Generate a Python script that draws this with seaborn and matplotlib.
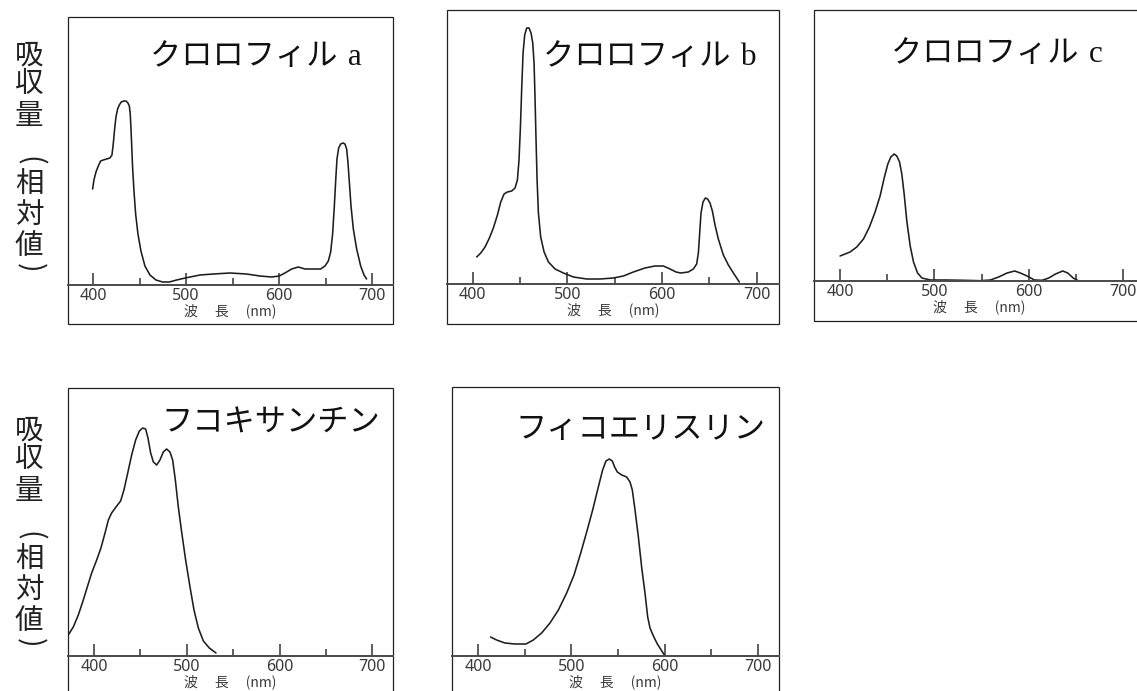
import matplotlib
matplotlib.use("Agg")
import matplotlib.pyplot as plt
import seaborn as sns
from matplotlib.patches import Rectangle

# ---------------- data (wavelength nm, relative absorbance) ----------------
wl_chl_a = [399.3, 400.7, 402.9, 405.4, 407.9, 410.8, 414.4, 417.9, 420.1, 421.5, 423, 424.4,
            426.2, 428, 430.1, 432.7, 435.2, 437.3, 438.8, 439.8, 440.5, 441.3, 442.3, 443.8,
            445.6, 448.1, 451.3, 455.6, 461, 467.5, 474.6, 481.8, 489.7, 499, 514.8, 529.2,
            547.1, 565, 579.4, 592, 600.2, 606.3, 613.5, 620.7, 627.8, 636.8, 644.7, 649.4,
            653, 655.5, 657.6, 659.4, 660.9, 662.3, 664.1, 666.3, 668.8, 670.9, 672.7, 674.1,
            675.6, 677.4, 679.9, 683.5, 687.8, 691.4, 694.2]
ab_chl_a = [96, 105, 113, 119, 124, 125, 126, 127, 130, 141, 156, 168,
            176, 180, 183, 184, 184, 182, 179, 171, 158, 141, 118, 94,
            71, 51, 34, 19, 10, 5, 3, 3, 5, 7, 10, 11,
            12, 11, 9, 8, 9, 12, 16, 18, 16, 16, 16, 19,
            24, 33, 51, 78, 104, 126, 137, 141, 142, 141, 136, 123,
            103, 79, 56, 36, 19, 10, 6]

wl_chl_b = [404.2, 408.5, 413, 417.6, 421.8, 426.1, 429.6, 433.1, 436.6, 441.2, 444.7, 447.2,
            448.9, 450.4, 451.8, 453.2, 454.9, 457, 459.5, 461.6, 463.4, 464.8, 465.8, 466.9,
            468, 469.4, 471.8, 475.4, 480, 487, 495.8, 506.3, 520.4, 534.5, 548.6, 559.2,
            569.7, 582, 592.6, 601.4, 608.5, 614.8, 619.7, 627.8, 633.1, 636.6, 638.4, 639.8,
            641.2, 643.3, 645.8, 648.2, 650.7, 653.2, 656, 659.5, 664.8, 670.1, 675.4, 681.7]
ab_chl_b = [27, 31, 37, 46, 56, 69, 82, 90, 92, 93, 96, 104,
            124, 157, 197, 231, 249, 256, 256, 251, 241, 221, 187, 144,
            104, 71, 47, 32, 22, 15, 11, 7, 5, 5, 6, 8,
            12, 16, 18, 18, 15, 12, 11, 12, 15, 20, 31, 51,
            71, 82, 86, 85, 81, 73, 59, 45, 29, 19, 11, 2]

wl_chl_c = [400, 405.3, 410.6, 417.7, 424.8, 431.1, 437.1, 442.4, 447, 450.6, 453.8, 457.3,
            460.1, 463, 465.4, 467.9, 470.7, 474.3, 477.8, 482.1, 486.7, 495.5, 513.2, 530.9,
            548.6, 559.2, 568, 576.9, 585, 591, 598.1, 605.9, 614, 621.1, 628.2, 635.9,
            641.2, 646.9, 652.9]
ab_chl_c = [25, 27, 29, 34, 42, 54, 69, 85, 104, 117, 124, 127,
            125, 119, 107, 87, 60, 35, 19, 8, 3, 1, 1, 0.7,
            0.3, 1, 4, 8, 10, 8, 5, 1, 0.7, 3, 7, 10,
            8, 3, 0]

wl_fuco = [372.3, 377.7, 383.1, 388.5, 392.8, 397.5, 402.9, 407.5, 411.9, 415.5, 419, 423.7,
           428.7, 432.3, 435.9, 440.6, 444.9, 448.9, 452.5, 455.7, 458.2, 461.1, 464, 467.6,
           471.1, 474.7, 478.3, 481.9, 484.8, 487.7, 490.9, 494.5, 498.8, 503.5, 507.8, 512.5,
           517.9, 524.3, 531.5]
ab_fuco = [21, 29, 41, 56, 69, 83, 96, 108, 123, 136, 143, 149,
           155, 166, 181, 201, 216, 225, 228, 227, 218, 203, 194, 191,
           196, 204, 207, 204, 196, 176, 149, 124, 96, 69, 46, 28,
           15, 8, 3]

wl_phyco = [413.2, 419.7, 428.6, 439.4, 451.2, 459.1, 468, 477, 486, 494.9, 502.8, 510,
            516.4, 522.8, 528.9, 533.5, 537.1, 540.7, 543.9, 546.4, 549.3, 554, 559.3, 562.9,
            565.4, 568.3, 571.9, 575.4, 579, 581.9, 584.4, 588, 592.3, 600.5]
ab_phyco = [19, 16, 13, 12, 12, 16, 23, 33, 46, 63, 81, 103,
            124, 146, 169, 186, 195, 197, 195, 189, 184, 181, 179, 174,
            166, 146, 119, 89, 63, 39, 28, 20, 12, 0]

titles = ["クロロフィル\u2004a", "クロロフィル\u2004b", "クロロフィル\u2004c",
          "フコキサンチン", "フィコエリスリン"]
major_ticks = [400, 500, 600, 700]
major_labels = ["400", "500", "600", "700"]
minor_ticks = [450, 550, 650]
x_label = "波\u3000 長\u3000 (nm)"
y_label_chars = ["吸", "収", "量", "(", "相", "対", "値", ")"]

# ---------------- layout (pixels) ----------------
W, H = 1137, 691
panels = [
    # wl, ab, title, (x0, x1, y0, y1), xlim, ylim, (title_x, title_baseline)
    (wl_chl_a, ab_chl_a, titles[0], (68, 393, 17, 324), (372.8, 722.6), (-39, 268), (150, 65)),
    (wl_chl_b, ab_chl_b, titles[1], (446.7, 779, 10, 324), (372.5, 723.6), (-40, 274), (543, 65)),
    (wl_chl_c, ab_chl_c, titles[2], (814, 1145, 10, 321), (372.4, 723.0), (-40, 271), (891, 62)),
    (wl_fuco, ab_fuco, titles[3], (68, 393, 388, 695), (372.0, 722.3), (-39, 268), (161, 432)),
    (wl_phyco, ab_phyco, titles[4], (452.3, 779, 386.7, 695), (372.1, 722.9), (-39, 269.3), (515, 438)),
]

sns.set_style("white")
plt.rcParams["font.family"] = ["Noto Sans", "Noto Sans CJK JP", "DejaVu Sans"]

fig = plt.figure(figsize=(W / 100, H / 100), dpi=100)
fig.patch.set_facecolor("white")

for wl, ab, title, (x0, x1, y0, y1), xlim, ylim, (tx, ty) in panels:
    ax = fig.add_axes([x0 / W, 1 - y1 / H, (x1 - x0) / W, (y1 - y0) / H])
    sns.lineplot(x=wl, y=ab, ax=ax, color="#1e1e1e", lw=1.15, errorbar=None,
                 solid_joinstyle="round", solid_capstyle="round")
    ax.set_xlim(*xlim)
    ax.set_ylim(*ylim)
    for s in ["left", "right", "top"]:
        ax.spines[s].set_visible(False)
    ax.spines["bottom"].set_position(("data", 0))
    ax.spines["bottom"].set_color("#4a4a4a")
    ax.spines["bottom"].set_linewidth(1.4)
    ax.add_patch(Rectangle((0, 0), 1, 1, transform=ax.transAxes, fill=False,
                           lw=0.9, ec="#222222", clip_on=False))
    ax.set_yticks([])
    ax.set_xticks(major_ticks)
    ax.set_xticklabels(major_labels)
    ax.set_xticks(minor_ticks, minor=True)
    ax.tick_params(axis="x", which="both", bottom=True, top=False)
    ax.tick_params(axis="x", which="major", direction="in", length=8.6, width=1.1,
                   color="#333333", labelsize=11.5, labelcolor="#3a3a3a", pad=2.5)
    ax.tick_params(axis="x", which="minor", direction="in", length=5.0, width=1.1,
                   color="#333333")
    ax.set_xlabel(x_label, fontsize=10, color="#3a3a3a", labelpad=-1,
                  family=["Noto Sans CJK JP", "DejaVu Sans"])
    ax.set_ylabel("")
    fig.text(tx / W, 1 - ty / H, title, fontsize=22.5, color="#111111",
             family=["Liberation Serif", "Noto Sans CJK JP"], ha="left", va="baseline")

# vertical y-axis labels (stacked characters)
char_centers = [55, 84, 116, 161, 185, 215, 246, 268]
for offset in (0, 375):
    for ch, yc in zip(y_label_chars, char_centers):
        rot = -90 if ch in "()" else 0
        fig.text(29 / W, 1 - (yc + offset) / H, ch, fontsize=20.5, color="#222222",
                 family=["Noto Sans CJK JP", "DejaVu Sans"], ha="center", va="center",
                 rotation=rot)

fig.savefig("out.png", dpi=100)
